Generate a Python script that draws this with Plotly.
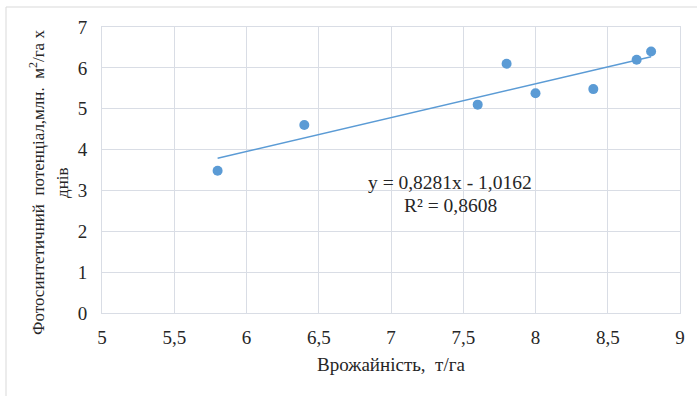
import plotly.graph_objects as go

# Data
yield_t_ha = [5.8, 6.4, 7.6, 7.8, 8.0, 8.4, 8.7, 8.8]
photo_potential = [3.48, 4.6, 5.1, 6.1, 5.38, 5.48, 6.2, 6.4]
trend_slope = 0.8281
trend_intercept = -1.0162
r_squared = 0.8608
x_ticks = [5, 5.5, 6, 6.5, 7, 7.5, 8, 8.5, 9]
y_ticks = [0, 1, 2, 3, 4, 5, 6, 7]

blue = "#5b9bd5"
grid = "#d9dde5"
font_family = "Liberation Serif"
txt = "#262626"

trend_x = [min(yield_t_ha), max(yield_t_ha)]
trend_y = [trend_slope * v + trend_intercept for v in trend_x]

fig = go.Figure()
fig.add_trace(go.Scatter(x=trend_x, y=trend_y, mode="lines",
                         line=dict(color=blue, width=1.5), hoverinfo="skip"))
fig.add_trace(go.Scatter(x=yield_t_ha, y=photo_potential, mode="markers",
                         marker=dict(color=blue, size=10, line=dict(width=0))))


def fmt(v):
    return ("%g" % v).replace(".", ",")


PW, PH, L, T = 578, 286, 102, 27


def px(xp):
    return (xp - L) / PW


def py(yp):
    return (T + PH - yp) / PH


fig.update_layout(
    width=697, height=396,
    margin=dict(l=102, r=17, t=27, b=83),
    paper_bgcolor="white", plot_bgcolor="white",
    showlegend=False,
    font=dict(family=font_family, color=txt, size=19),
    xaxis=dict(range=[5, 9], tickvals=x_ticks, ticktext=[fmt(v) for v in x_ticks],
               showgrid=True, gridcolor=grid, gridwidth=1,
               showline=True, linecolor=grid, mirror=True, zeroline=False,
               ticks="", tickfont=dict(family=font_family, size=19, color=txt),
               ticklabelstandoff=7,
               title=dict(text="Врожайність,\u00a0\u00a0т/га",
                          font=dict(family=font_family, size=19, color=txt),
                          standoff=10)),
    yaxis=dict(range=[0, 7], tickvals=y_ticks, ticktext=[fmt(v) for v in y_ticks],
               showgrid=True, gridcolor=grid, gridwidth=1,
               showline=True, linecolor=grid, mirror=True, zeroline=False,
               ticks="", tickfont=dict(family=font_family, size=19, color=txt),
               ticklabelstandoff=10),
    shapes=[dict(type="rect", xref="paper", yref="paper",
                 x0=px(6), x1=1.2, y0=-0.5, y1=py(7),
                 line=dict(color="#d9d9d9", width=1), fillcolor="rgba(0,0,0,0)", layer="below")],
    annotations=[
        dict(xref="paper", yref="paper", x=px(37), y=py(183),
             text="Фотосинтетичний\u00a0\u00a0потенціал,млн.\u00a0\u00a0м<sup>2</sup>/га х",
             textangle=-90, showarrow=False, xanchor="center", yanchor="middle",
             font=dict(family=font_family, size=17, color=txt)),
        dict(xref="paper", yref="paper", x=px(62), y=py(183),
             text="днів",
             textangle=-90, showarrow=False, xanchor="center", yanchor="middle",
             font=dict(family=font_family, size=17, color=txt)),
        dict(xref="paper", yref="paper", x=px(450), y=py(182),
             text="y = %sx - %s" % (fmt(trend_slope), fmt(-trend_intercept)),
             showarrow=False, xanchor="center", yanchor="middle",
             font=dict(family=font_family, size=19.5, color=txt)),
        dict(xref="paper", yref="paper", x=px(450), y=py(205),
             text="R² = %s" % fmt(r_squared),
             showarrow=False, xanchor="center", yanchor="middle",
             font=dict(family=font_family, size=19.5, color=txt)),
    ],
)

fig.write_html("out.html")
